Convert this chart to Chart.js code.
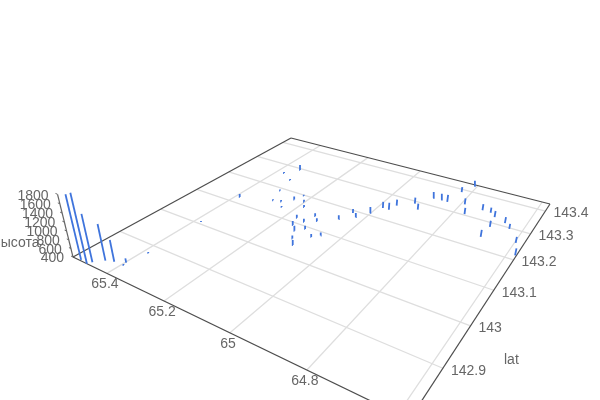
<!DOCTYPE html>
<html>
<head>
<meta charset="utf-8">
<title>высота</title>
<script src="https://cdn.jsdelivr.net/npm/chart.js@4"></script>
<style>
    html, body { margin: 0; padding: 0; background: #fff; }
    canvas { display: block; }
</style>
</head>
<body>
<canvas id="chart" width="600" height="400"></canvas>
<script>
// Axis ticks
const lonTicks = [65.4, 65.2, 65, 64.8, 64.6];
const latTicks = [142.9, 143, 143.1, 143.2, 143.3, 143.4];
const heightTicks = [400, 600, 800, 1000, 1200, 1400, 1600, 1800];

// Axis ranges
const lonRange = [64.577, 65.533];
const latRange = [142.8, 143.434];
const heightRange = [400, 1800];

// Points
const lons = [65.504, 65.477, 65.471, 65.449, 65.426, 65.397, 65.394, 65.384, 65.380, 65.386,
    65.342, 65.373, 65.325, 65.308, 65.287, 65.262, 65.240, 65.236, 65.226, 65.203,
    65.184, 65.165, 65.135, 65.126, 65.106, 65.060, 65.044, 65.025, 65.151, 65.129,
    65.110, 65.110, 65.090, 65.072, 65.054, 65.002, 64.985, 64.965, 64.957, 64.917,
    64.894, 64.886, 64.861, 64.840, 64.827, 64.790, 64.769, 64.810, 64.733, 64.708,
    64.690, 64.654, 64.634, 64.683, 64.686, 64.597, 64.580];
const lats = [142.802, 142.800, 142.808, 142.823, 142.829, 142.838, 142.831, 142.879, 143.006, 143.123,
    143.294, 143.262, 143.241, 143.190, 143.148, 143.153, 143.135, 143.174, 143.198, 143.177,
    143.159, 143.117, 143.112, 143.141, 143.127, 143.156, 143.191, 143.180, 143.091, 143.076,
    143.092, 143.052, 143.035, 143.075, 143.088, 143.209, 143.240, 143.240, 143.263, 143.290,
    143.271, 143.332, 143.334, 143.332, 143.387, 143.341, 143.304, 143.429, 143.337, 143.336,
    143.324, 143.312, 143.296, 143.284, 143.241, 143.255, 143.215];
const heights = [1855, 1953, 1483, 1234, 900, 503, 423, 424, 425, 480,
    542, 428, 428, 428, 428, 440, 426, 479, 427, 453,
    452, 476, 476, 477, 476, 501, 503, 502, 500, 524,
    475, 473, 521, 474, 474, 554, 556, 581, 556, 557,
    555, 559, 558, 583, 534, 556, 554, 536, 555, 529,
    553, 551, 524, 550, 571, 544, 566];

const tickColor = '#666';
const barColor = '#3f74dc';
const gridColor = '#dedede';
const edgeColor = '#4d4d4d';

// Perspective camera: floor homography plus a nadir point for the vertical
function project(lon, lat, z) {
    const s = (lonRange[1] - lon) / (lonRange[1] - lonRange[0]);
    const t = (lat - latRange[0]) / (latRange[1] - latRange[0]);
    const w = 1 - 0.30576 * s + 0.46482 * t;
    const k = (heightRange[0] - z) * 0.0594 / (heightRange[1] - heightRange[0]);
    const px = 211.22 * s + 353.26 * t + 73;
    const py = 34.3 * s - 54.85 * t + 257;
    return { x: (px + 318 * k) / (w + k), y: (py + 1250 * k) / (w + k) };
}

function line(points, color, width) {
    return {
        type: 'scatter',
        data: points,
        showLine: true,
        borderColor: color,
        borderWidth: width,
        pointRadius: 0,
        pointHoverRadius: 0,
        fill: false
    };
}

const floor = heightRange[0];
const datasets = [];

lons.forEach((lon, i) => {
    datasets.push(line([project(lon, lats[i], floor), project(lon, lats[i], heights[i])], barColor, 1.8));
});

// Box edges and height axis
[
    [[lonRange[1], latRange[0]], [lonRange[1], latRange[1]]],
    [[lonRange[1], latRange[1]], [lonRange[0], latRange[1]]],
    [[lonRange[1], latRange[0]], [lonRange[0], latRange[0]]],
    [[lonRange[0], latRange[0]], [lonRange[0], latRange[1]]]
].forEach(e => {
    datasets.push(line([project(e[0][0], e[0][1], floor), project(e[1][0], e[1][1], floor)], edgeColor, 1.2));
});
datasets.push(line([project(lonRange[1], latRange[0], heightRange[0]), project(lonRange[1], latRange[0], heightRange[1])], '#666', 1.2));
heightTicks.forEach(v => {
    datasets.push(line([project(lonRange[1], latRange[0], v), project(lonRange[1] + 0.008, latRange[0], v)], '#666', 1));
});

// Grid
lonTicks.forEach(lon => {
    datasets.push(line([project(lon, latRange[0], floor), project(lon, latRange[1], floor)], gridColor, 1.3));
});
latTicks.forEach(lat => {
    datasets.push(line([project(lonRange[0], lat, floor), project(lonRange[1], lat, floor)], gridColor, 1.3));
});

const axisText = {
    id: 'axisText',
    afterDraw(chart) {
        const ctx = chart.ctx;
        const sx = chart.scales.x;
        const sy = chart.scales.y;
        const put = (text, p, dx, dy, align) => {
            ctx.textAlign = align;
            ctx.fillText(text, sx.getPixelForValue(p.x) + dx, sy.getPixelForValue(p.y) + dy);
        };
        ctx.save();
        ctx.fillStyle = tickColor;
        ctx.textBaseline = 'middle';
        ctx.font = '14px "Liberation Sans", Arial, sans-serif';
        lonTicks.forEach(v => put(String(v), project(v, latRange[0], floor), -2, 11, 'center'));
        latTicks.forEach(v => put(String(v), project(lonRange[0], v, floor), 8, 2.5, 'left'));
        heightTicks.forEach(v => put(String(v), project(lonRange[1], latRange[0], v), -9, 1.5, 'right'));
        ctx.textAlign = 'left';
        ctx.fillText('lat', 504, 360);
        ctx.textAlign = 'right';
        ctx.fillText('высота', 39.5, 243);
        ctx.restore();
    }
};

new Chart(document.getElementById('chart'), {
    type: 'scatter',
    data: { datasets: datasets },
    options: {
        responsive: false,
        animation: false,
        plugins: { legend: { display: false }, tooltip: { enabled: false } },
        layout: { padding: 0 },
        scales: {
            x: { type: 'linear', display: false, min: 0, max: 600 },
            y: { type: 'linear', display: false, min: 0, max: 400, reverse: true }
        }
    },
    plugins: [axisText]
});
</script>
</body>
</html>
